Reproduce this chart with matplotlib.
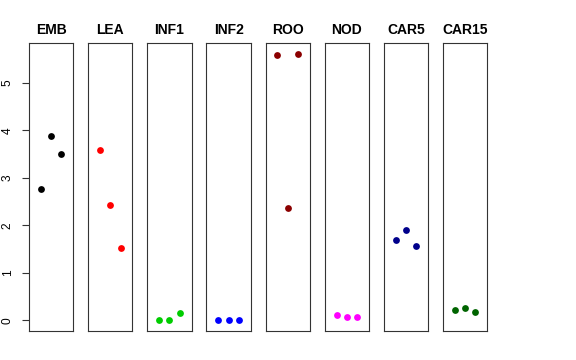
import matplotlib
matplotlib.use("Agg")
import matplotlib.pyplot as plt

plt.rcParams['font.family'] = ['Liberation Sans', 'DejaVu Sans']

# tissues shown, one panel each
tissues = ['EMB', 'LEA', 'INF1', 'INF2', 'ROO', 'NOD', 'CAR5', 'CAR15']
colors = ['#000000', '#FF0000', '#00CD00', '#0000FF',
          '#8B0000', '#FF00FF', '#00008B', '#006400']

# three replicates per tissue
replicates = [1, 2, 3]
emb = [2.77, 3.89, 3.50]
lea = [3.59, 2.42, 1.52]
inf1 = [0.00, 0.00, 0.16]
inf2 = [0.00, 0.00, 0.00]
roo = [5.59, 2.36, 5.61]
nod = [0.11, 0.07, 0.06]
car5 = [1.70, 1.91, 1.56]
car15 = [0.22, 0.26, 0.17]
values = [emb, lea, inf1, inf2, roo, nod, car5, car15]

yticks = [0, 1, 2, 3, 4, 5]

fig, axes = plt.subplots(1, len(tissues), figsize=(5.76, 3.6), dpi=100, sharey=True)
fig.subplots_adjust(left=0.0503, right=0.846, top=0.8797, bottom=0.0806, wspace=0.335)

# R-style 4% axis extension
ymax = max(max(v) for v in values)
ymin = 0
yext = (ymax - ymin) * 0.04

for i, ax in enumerate(axes):
    ax.scatter(replicates, values[i], color=colors[i], s=24, zorder=3, linewidths=0)
    ax.set_xlim(-0.16, 4.16)
    ax.set_ylim(ymin - yext, ymax + yext)
    ax.set_xticks([])
    ax.set_title(tissues[i], fontsize=10, fontweight='bold', pad=6.8)
    for sp in ax.spines.values():
        sp.set_linewidth(0.8)
        sp.set_color('#333333')
    if i == 0:
        ax.set_yticks(yticks)
        ax.tick_params(axis='y', length=5, width=0.8, pad=6, labelsize=8.6,
                       color='#333333')
        for lab in ax.get_yticklabels():
            lab.set_rotation(90)
            lab.set_va('center')
    else:
        ax.tick_params(axis='y', left=False, labelleft=False)

fig.savefig('out.png', dpi=100)
